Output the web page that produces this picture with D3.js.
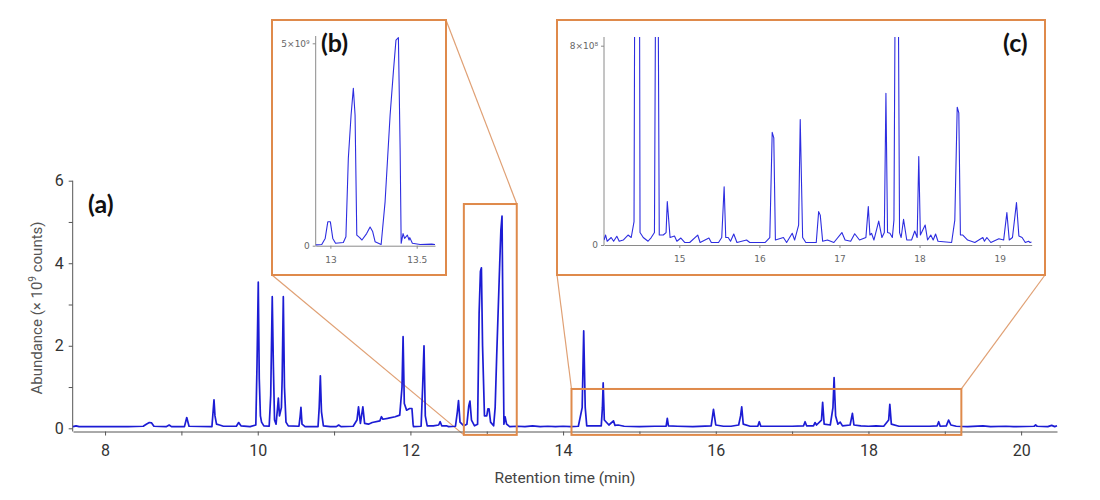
<!DOCTYPE html>
<html>
<head>
<meta charset="utf-8">
<script src="https://cdn.jsdelivr.net/npm/d3@7"></script>
<style>
  body { margin: 0; background: #fff; }
</style>
</head>
<body>
<div id="chart"></div>
<script>
// main chromatogram, [retention time (min), abundance (x1e9 counts)]
const mainTrace = [
  [7.58, 0.04], [7.62, 0.06], [7.66, 0.04], [8.0, 0.04], [8.3, 0.04], [8.5, 0.05],
  [8.54, 0.1], [8.58, 0.14], [8.61, 0.13], [8.64, 0.05], [8.8, 0.04], [8.84, 0.08],
  [8.87, 0.04], [9.04, 0.04], [9.07, 0.26], [9.1, 0.05], [9.4, 0.04], [9.415, 0.4],
  [9.427, 0.69], [9.44, 0.3], [9.46, 0.1], [9.5, 0.08], [9.55, 0.05], [9.72, 0.05],
  [9.75, 0.14], [9.78, 0.06], [9.9, 0.04], [9.975, 0.08], [9.99, 1.5], [10.007, 3.54],
  [10.02, 1.2], [10.035, 0.3], [10.05, 0.15], [10.08, 0.06], [10.15, 0.05], [10.17, 0.8],
  [10.19, 3.19], [10.205, 1.5], [10.22, 0.2], [10.24, 0.1], [10.26, 0.5], [10.27, 0.73],
  [10.285, 0.3], [10.31, 0.5], [10.32, 1.2], [10.335, 3.19], [10.35, 1.0], [10.37, 0.15],
  [10.4, 0.06], [10.54, 0.05], [10.556, 0.3], [10.566, 0.51], [10.58, 0.1], [10.62, 0.04],
  [10.79, 0.04], [10.805, 0.5], [10.82, 1.27], [10.835, 0.4], [10.86, 0.06], [10.95, 0.04],
  [11.03, 0.04], [11.06, 0.08], [11.09, 0.04], [11.25, 0.05], [11.3, 0.2], [11.32, 0.52],
  [11.345, 0.12], [11.377, 0.52], [11.4, 0.12], [11.45, 0.1], [11.5, 0.14], [11.6, 0.18],
  [11.62, 0.28], [11.64, 0.22], [11.7, 0.24], [11.8, 0.28], [11.86, 0.32], [11.89, 1.0],
  [11.904, 2.22], [11.92, 0.6], [11.95, 0.44], [11.99, 0.48], [12.02, 0.48], [12.035, 0.1],
  [12.04, 0.04], [12.14, 0.05], [12.16, 1.0], [12.178, 2.0], [12.195, 0.3], [12.22, 0.06],
  [12.3, 0.06], [12.37, 0.08], [12.39, 0.16], [12.41, 0.06], [12.47, 0.06], [12.5, 0.04],
  [12.59, 0.05], [12.615, 0.4], [12.63, 0.67], [12.65, 0.15], [12.7, 0.06], [12.74, 0.1],
  [12.765, 0.55], [12.78, 0.66], [12.8, 0.2], [12.84, 0.06], [12.88, 0.1], [12.9, 2.79],
  [12.917, 3.8], [12.93, 3.89], [12.945, 2.0], [12.97, 0.3], [13.0, 0.3], [13.015, 0.47],
  [13.03, 0.47], [13.05, 0.15], [13.09, 0.06], [13.11, 0.5], [13.13, 1.74], [13.17, 4.0],
  [13.185, 4.8], [13.2, 5.14], [13.215, 2.0], [13.225, 0.1], [13.24, 0.28], [13.26, 0.1],
  [13.3, 0.04], [13.4, 0.05], [13.5, 0.04], [13.6, 0.06], [13.7, 0.04], [13.8, 0.05],
  [13.9, 0.04], [14.0, 0.05], [14.1, 0.04], [14.2, 0.05], [14.25, 0.5], [14.27, 2.36],
  [14.29, 0.5], [14.31, 0.06], [14.5, 0.06], [14.515, 0.5], [14.525, 1.1], [14.54, 0.2],
  [14.6, 0.08], [14.66, 0.18], [14.68, 0.07], [14.72, 0.08], [14.8, 0.05], [15.0, 0.04],
  [15.2, 0.05], [15.35, 0.05], [15.365, 0.24], [15.38, 0.06], [15.5, 0.05], [15.7, 0.04],
  [15.94, 0.06], [15.97, 0.46], [16.0, 0.08], [16.1, 0.05], [16.2, 0.05], [16.3, 0.08],
  [16.325, 0.3], [16.34, 0.52], [16.36, 0.1], [16.45, 0.05], [16.55, 0.05], [16.57, 0.16],
  [16.59, 0.05], [16.8, 0.05], [17.0, 0.05], [17.15, 0.06], [17.17, 0.16], [17.19, 0.06],
  [17.28, 0.06], [17.3, 0.14], [17.32, 0.08], [17.385, 0.2], [17.4, 0.63], [17.42, 0.1],
  [17.5, 0.08], [17.535, 0.5], [17.55, 1.23], [17.57, 0.3], [17.6, 0.1], [17.63, 0.15],
  [17.66, 0.06], [17.76, 0.08], [17.79, 0.36], [17.81, 0.08], [17.9, 0.06], [18.0, 0.05],
  [18.1, 0.06], [18.2, 0.05], [18.265, 0.2], [18.28, 0.58], [18.3, 0.1], [18.4, 0.05],
  [18.6, 0.05], [18.8, 0.05], [18.9, 0.06], [18.92, 0.16], [18.94, 0.05], [19.02, 0.06],
  [19.05, 0.2], [19.08, 0.08], [19.15, 0.05], [19.3, 0.04], [19.5, 0.06], [19.6, 0.04],
  [19.8, 0.05], [19.9, 0.04], [20.17, 0.05], [20.19, 0.08], [20.21, 0.05], [20.35, 0.04],
  [20.4, 0.07], [20.44, 0.04], [20.47, 0.06]
];

// inset (b), abundance in x1e9 counts
const insetBTrace = [
  [12.915, 0.02], [12.95, 0.03], [12.97, 0.18], [12.985, 0.59], [13.0, 0.59], [13.014, 0.18],
  [13.03, 0.06], [13.075, 0.08], [13.09, 0.22], [13.104, 2.16], [13.12, 3.23], [13.133, 3.89],
  [13.143, 3.23], [13.153, 0.26], [13.17, 0.2], [13.183, 0.14], [13.21, 0.3], [13.23, 0.46],
  [13.245, 0.35], [13.259, 0.1], [13.294, 0.03], [13.317, 1.09], [13.346, 3.23], [13.365, 4.3],
  [13.38, 5.08], [13.394, 5.14], [13.404, 2.4], [13.41, 0.06], [13.421, 0.3], [13.43, 0.18],
  [13.446, 0.26], [13.456, 0.14], [13.46, 0.2], [13.475, 0.06], [13.52, 0.03], [13.587, 0.04],
  [13.606, 0.03]
];

// inset (c), abundance in x1e8 counts (tallest peaks run off the top)
const insetCTrace = [
  [14.06, 0.2], [14.08, 0.4], [14.1, 0.15], [14.15, 0.3], [14.18, 0.15], [14.22, 0.35],
  [14.25, 0.15], [14.3, 0.2], [14.36, 0.4], [14.4, 0.3], [14.435, 0.94], [14.455, 23],
  [14.495, 23], [14.51, 0.5], [14.55, 0.3], [14.61, 0.15], [14.65, 0.3], [14.69, 0.5],
  [14.705, 11], [14.735, 11], [14.75, 0.4], [14.8, 0.4], [14.835, 0.5], [14.85, 1.74],
  [14.885, 0.3], [14.94, 0.36], [14.97, 0.15], [15.02, 0.28], [15.07, 0.1], [15.13, 0.1],
  [15.23, 0.4], [15.26, 0.1], [15.37, 0.28], [15.4, 0.1], [15.49, 0.1], [15.53, 0.3],
  [15.56, 2.34], [15.58, 0.3], [15.61, 0.3], [15.64, 0.15], [15.68, 0.44], [15.72, 0.1],
  [15.84, 0.2], [15.88, 0.1], [16.07, 0.1], [16.13, 0.3], [16.16, 4.52], [16.18, 4.3],
  [16.2, 0.2], [16.3, 0.3], [16.34, 0.1], [16.41, 0.47], [16.44, 0.2], [16.49, 0.8],
  [16.51, 5.04], [16.54, 0.3], [16.58, 0.1], [16.71, 0.1], [16.74, 1.34], [16.76, 1.2],
  [16.79, 0.15], [16.85, 0.2], [16.93, 0.1], [17.03, 0.5], [17.07, 0.2], [17.14, 0.15],
  [17.19, 0.45], [17.25, 0.2], [17.33, 0.3], [17.36, 1.54], [17.38, 0.4], [17.4, 0.47],
  [17.43, 0.2], [17.49, 0.96], [17.53, 0.3], [17.56, 0.5], [17.58, 6.09], [17.6, 0.5],
  [17.63, 0.47], [17.66, 0.3], [17.68, 1.0], [17.7, 13], [17.73, 13], [17.75, 0.5],
  [17.77, 0.3], [17.8, 1.03], [17.84, 0.2], [17.9, 0.2], [17.94, 0.56], [17.97, 0.3],
  [17.99, 3.55], [18.01, 0.4], [18.07, 0.8], [18.1, 0.2], [18.14, 0.4], [18.17, 0.2],
  [18.2, 0.44], [18.23, 0.15], [18.4, 0.1], [18.44, 1.0], [18.47, 5.53], [18.49, 5.3],
  [18.51, 0.4], [18.54, 0.4], [18.6, 0.2], [18.69, 0.1], [18.79, 0.3], [18.81, 0.15],
  [18.84, 0.3], [18.89, 0.1], [18.99, 0.25], [19.05, 0.2], [19.09, 1.3], [19.12, 0.2],
  [19.16, 0.3], [19.21, 1.7], [19.24, 0.36], [19.28, 0.3], [19.32, 0.1], [19.36, 0.15],
  [19.38, 0.1], [19.4, 0.12]
];

const mainTimeDomain = [7.58, 20.47];
const mainAbundDomain = [0, 6];
const mainXTicks = [8, 10, 12, 14, 16, 18, 20];
const mainXMinorTicks = [9, 11, 13, 15, 17, 19];
const mainYTicks = [0, 2, 4, 6];
const mainYMinorTicks = [1, 3, 5];

const insetBTimeDomain = [12.915, 13.606];
const insetBAbundDomain = [0, 5];
const insetBXTicks = [13, 13.5];
const insetBXLabels = ["13", "13.5"];
const insetBYTicks = [0, 5];
const insetBYLabels = ["0", "5×10⁹"];

const insetCTimeDomain = [14.06, 19.4];
const insetCAbundDomain = [0, 8];
const insetCXTicks = [15, 16, 17, 18, 19];
const insetCXLabels = ["15", "16", "17", "18", "19"];
const insetCYTicks = [0, 8];
const insetCYLabels = ["0", "8×10⁸"];

// zoom windows marked on the main chart: [t0, t1, v0, v1]
const zoomWindowB = [12.7, 13.393, -0.16, 5.435];
const zoomWindowC = [14.11, 19.217, -0.16, 0.953];

const width = 1100;
const height = 500;

const orange = "#df8a4b";
const traceBlue = "#1c1cd4";
const insetBlue = "#2d2de0";

const svg = d3.select("#chart")
  .append("svg")
  .attr("width", width)
  .attr("height", height)
  .attr("viewBox", [0, 0, width, height])
  .style("font-family", "Roboto, 'Open Sans', sans-serif");

const x = d3.scaleLinear().domain(mainTimeDomain).range([73, 1057]);
const y = d3.scaleLinear().domain(mainAbundDomain).range([428.3, 180.7]);
const xAxisY = 431.5;

// ---- connector lines (behind everything) ----
const frameB = { x: 272, y: 20, w: 174, h: 255 };
const frameC = { x: 557, y: 20, w: 488, h: 255 };

const connectors = [
  [frameB.x, frameB.y + frameB.h, x(zoomWindowB[0]), y(zoomWindowB[2])],
  [frameB.x + frameB.w, frameB.y, x(zoomWindowB[1]), y(zoomWindowB[3])],
  [frameC.x, frameC.y + frameC.h, x(zoomWindowC[0]), y(zoomWindowC[3])],
  [frameC.x + frameC.w, frameC.y + frameC.h, x(zoomWindowC[1]), y(zoomWindowC[3])]
];

svg.append("g")
  .selectAll("line")
  .data(connectors)
  .join("line")
  .attr("x1", (d) => d[0])
  .attr("y1", (d) => d[1])
  .attr("x2", (d) => d[2])
  .attr("y2", (d) => d[3])
  .attr("stroke", "#e0a074")
  .attr("stroke-width", 1.2);

// ---- main axes ----
const gx = svg.append("g")
  .attr("transform", `translate(0,${xAxisY})`)
  .call(
    d3.axisBottom(x)
      .tickValues(mainXTicks)
      .tickFormat(d3.format("d"))
      .tickSize(4)
      .tickSizeOuter(0)
      .tickPadding(9)
  );

svg.append("g")
  .attr("transform", `translate(0,${xAxisY})`)
  .call(d3.axisBottom(x).tickValues(mainXMinorTicks).tickSize(4).tickFormat(""))
  .call((g) => g.select(".domain").remove());

const gy = svg.append("g")
  .attr("transform", "translate(72.7,0)")
  .call(
    d3.axisLeft(y)
      .tickValues(mainYTicks)
      .tickFormat(d3.format("d"))
      .tickSize(4)
      .tickPadding(5)
  )
  .call((g) => g.select(".domain").remove());

svg.append("g")
  .attr("transform", "translate(72.7,0)")
  .call(d3.axisLeft(y).tickValues(mainYMinorTicks).tickSize(4).tickFormat(""))
  .call((g) => g.select(".domain").remove());

svg.append("line")
  .attr("x1", 72.7).attr("x2", 72.7)
  .attr("y1", y(6)).attr("y2", xAxisY)
  .attr("stroke", "#555");

svg.selectAll(".domain").attr("stroke", "#555");
svg.selectAll(".tick line").attr("stroke", "#555");
[gx, gy].forEach((g) =>
  g.selectAll(".tick text")
    .attr("font-size", 16)
    .attr("fill", "#333")
    .attr("font-family", "Roboto, sans-serif")
);

svg.append("text")
  .attr("x", 565)
  .attr("y", 483)
  .attr("text-anchor", "middle")
  .attr("font-size", 15.5)
  .attr("fill", "#444")
  .text("Retention time (min)");

const yLabel = svg.append("text")
  .attr("transform", "translate(42,308) rotate(-90)")
  .attr("text-anchor", "middle")
  .attr("font-size", 15)
  .attr("fill", "#555");
yLabel.append("tspan").text("Abundance (× 10");
yLabel.append("tspan").attr("dy", -6).attr("font-size", 10).text("9");
yLabel.append("tspan").attr("dy", 6).text(" counts)");

// ---- main trace ----
const line = d3.line().x((d) => x(d[0])).y((d) => y(d[1]));

svg.append("path")
  .datum(mainTrace)
  .attr("fill", "none")
  .attr("stroke", traceBlue)
  .attr("stroke-width", 1.7)
  .attr("stroke-linejoin", "round")
  .attr("d", line);

// zoom windows on the main chart
[zoomWindowB, zoomWindowC].forEach((w) => {
  svg.append("rect")
    .attr("x", x(w[0]))
    .attr("y", y(w[3]))
    .attr("width", x(w[1]) - x(w[0]))
    .attr("height", y(w[2]) - y(w[3]))
    .attr("fill", "none")
    .attr("stroke", orange)
    .attr("stroke-width", 2);
});

svg.append("text")
  .attr("x", 88)
  .attr("y", 213)
  .attr("font-family", "Lato, sans-serif")
  .attr("font-weight", 700)
  .attr("font-size", 25)
  .attr("fill", "#111")
  .text("(a)");

// ---- insets ----
function drawInset({ frame, id, xDomain, xRange, yDomain, yRange, clipTop, trace, xTicks, xLabels, yTicks, yLabels, tag, tagX }) {
  const g = svg.append("g");

  g.append("rect")
    .attr("x", frame.x)
    .attr("y", frame.y)
    .attr("width", frame.w)
    .attr("height", frame.h)
    .attr("fill", "#fff")
    .attr("stroke", orange)
    .attr("stroke-width", 2);

  const ix = d3.scaleLinear().domain(xDomain).range(xRange);
  const iy = d3.scaleLinear().domain(yDomain).range(yRange);

  svg.append("clipPath")
    .attr("id", id)
    .append("rect")
    .attr("x", xRange[0])
    .attr("y", clipTop)
    .attr("width", xRange[1] - xRange[0])
    .attr("height", yRange[0] - clipTop + 2);

  const ax = g.append("g")
    .attr("transform", `translate(0,${yRange[0]})`)
    .call(
      d3.axisBottom(ix)
        .tickValues(xTicks)
        .tickFormat((d, i) => xLabels[i])
        .tickSize(3)
        .tickSizeOuter(0)
        .tickPadding(8)
    );

  const ay = g.append("g")
    .attr("transform", `translate(${xRange[0]},0)`)
    .call(
      d3.axisLeft(iy)
        .tickValues(yTicks)
        .tickFormat((d, i) => yLabels[i])
        .tickSize(3)
        .tickSizeOuter(0)
        .tickPadding(3)
    );

  ay.select(".domain").attr("d", `M0,${clipTop}V${yRange[0]}`);

  [ax, ay].forEach((a) => {
    a.selectAll(".domain, .tick line").attr("stroke", "#8a8a8a");
    a.selectAll(".tick text")
      .attr("font-size", 9)
      .attr("fill", "#666")
      .attr("font-family", "'DejaVu Sans', sans-serif");
  });

  const iline = d3.line().x((d) => ix(d[0])).y((d) => iy(d[1]));

  g.append("path")
    .datum(trace)
    .attr("clip-path", `url(#${id})`)
    .attr("fill", "none")
    .attr("stroke", insetBlue)
    .attr("stroke-width", 1.1)
    .attr("stroke-linejoin", "round")
    .attr("d", iline);

  g.append("text")
    .attr("x", tagX)
    .attr("y", frame.y + 32)
    .attr("font-family", "Lato, sans-serif")
    .attr("font-weight", 700)
    .attr("font-size", 25)
    .attr("fill", "#111")
    .text(tag);
}

drawInset({
  frame: frameB,
  id: "clip-b",
  xDomain: insetBTimeDomain,
  xRange: [315.7, 435],
  yDomain: insetBAbundDomain,
  yRange: [245.7, 43.3],
  clipTop: 36,
  trace: insetBTrace,
  xTicks: insetBXTicks,
  xLabels: insetBXLabels,
  yTicks: insetBYTicks,
  yLabels: insetBYLabels,
  tag: "(b)",
  tagX: 321
});

drawInset({
  frame: frameC,
  id: "clip-c",
  xDomain: insetCTimeDomain,
  xRange: [604, 1031.7],
  yDomain: insetCAbundDomain,
  yRange: [245, 45.7],
  clipTop: 37,
  trace: insetCTrace,
  xTicks: insetCXTicks,
  xLabels: insetCXLabels,
  yTicks: insetCYTicks,
  yLabels: insetCYLabels,
  tag: "(c)",
  tagX: 1003
});
</script>
</body>
</html>
